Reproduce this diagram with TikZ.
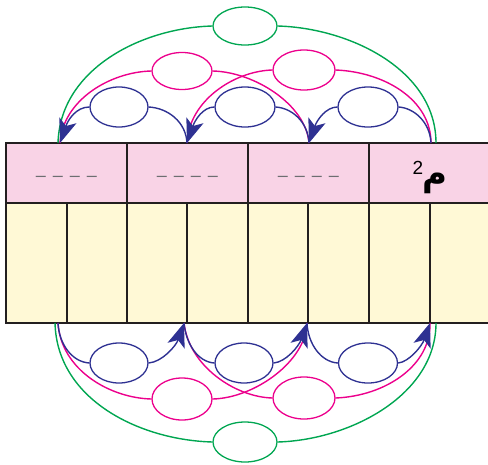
\documentclass[tikz,border=0pt]{standalone}
\usepackage{fontspec}
\newfontfamily\arabicfont[Script=Arabic]{DejaVu Sans}
\newfontfamily\digitfont{Liberation Sans}
\TeXXeTstate=1
\usetikzlibrary{arrows.meta,shapes.geometric}
\definecolor{cblue}{HTML}{2E3192}
\definecolor{cpink}{HTML}{EC008C}
\definecolor{cgreen}{HTML}{00A651}
\definecolor{cellpink}{HTML}{F9D3E6}
\definecolor{cellyellow}{HTML}{FFF9D6}
\definecolor{border}{HTML}{231F20}
\definecolor{dashgray}{HTML}{6D6E71}
\tikzset{
  loopnode/.style={ellipse,draw,line width=1.3pt,inner sep=0pt,minimum width=#1},
  bluel/.style={draw=cblue,line width=1.4pt},
  pinkl/.style={draw=cpink,line width=1.4pt},
  greenl/.style={draw=cgreen,line width=1.4pt},
  arr/.style={-{Stealth[length=24pt,width=18pt,inset=6pt]},cblue},
  dashtxt/.style={text=dashgray,font=\digitfont\fontsize{18}{18}\selectfont,inner sep=0pt},
}
\newcommand\dashrow{–\hspace{7pt}–\hspace{7pt}–\hspace{7pt}–}
\begin{document}
\begin{tikzpicture}[x=1pt,y=-1pt]
\useasboundingbox (0,0) rectangle (488,464);
% table
\fill[cellpink] (6,143) rectangle (488,203);
\fill[cellyellow] (6,203) rectangle (488,323);
\draw[border,line width=1.5pt] (6,203) -- (488,203);
\foreach \x in {67,187,308,430} \draw[border,line width=1.5pt] (\x,203) -- (\x,323);
\foreach \x in {127,248,369} \draw[border,line width=2pt] (\x,143) -- (\x,323);
\draw[border,line width=2.5pt] (488,143) -- (6,143) -- (6,323) -- (488,323);
% texts
\node[dashtxt] (d1) at (66.5,179) {\dashrow};
\node[dashtxt] (d2) at (187.5,179) {\dashrow};
\node[dashtxt] (d3) at (308.5,179) {\dashrow};
\node[inner sep=0pt] (sq) at (418,168) {\digitfont\fontsize{19}{19}\selectfont 2};
\node[inner sep=0pt] (unit) at (435,183) {\arabicfont\bfseries\fontsize{34}{34}\selectfont\beginR م\endR};
% endpoints
\coordinate (P0) at (60,143); \coordinate (P1) at (187,143);
\coordinate (P2) at (309,143); \coordinate (P3) at (431,143);
\coordinate (PG0) at (58,143); \coordinate (PG3) at (436,143);
\coordinate (Q0) at (58,323); \coordinate (Q1) at (184,323);
\coordinate (Q2) at (307,323); \coordinate (Q3) at (430,323);
\coordinate (QG0) at (55,323); \coordinate (QG3) at (436,323);
% top ellipses
\node[loopnode=64pt,minimum height=38pt,cgreen] (G1) at (245,26) {};
\node[loopnode=60pt,minimum height=37pt,cpink] (K1) at (182,71) {};
\node[loopnode=62pt,minimum height=40pt,cpink] (K2) at (304,70) {};
\node[loopnode=58pt,minimum height=40pt,cblue] (B1) at (119,107) {};
\node[loopnode=60pt,minimum height=40pt,cblue] (B2) at (245,107) {};
\node[loopnode=60pt,minimum height=40pt,cblue] (B3) at (368,107) {};
% bottom ellipses
\node[loopnode=64pt,minimum height=40pt,cgreen] (G2) at (245,442) {};
\node[loopnode=60pt,minimum height=42pt,cpink] (K3) at (182,399) {};
\node[loopnode=62pt,minimum height=42pt,cpink] (K4) at (304,398) {};
\node[loopnode=58pt,minimum height=40pt,cblue] (B4) at (119,363) {};
\node[loopnode=58pt,minimum height=40pt,cblue] (B5) at (244,363) {};
\node[loopnode=59pt,minimum height=40pt,cblue] (B6) at (368,363) {};
% top green
\draw[greenl] (G1.west) .. controls (140,28) and (60,70) .. (PG0);
\draw[greenl] (PG3) .. controls (436,70) and (350,28) .. (G1.east);
% top pink
\draw[pinkl] (P2) .. controls (306,105) and (255,72) .. (K1.east);
\draw[pinkl] (K1.west) .. controls (110,72) and (63,100) .. (P0);
\draw[pinkl] (P3) .. controls (431,100) and (385,72) .. (K2.east);
\draw[pinkl] (K2.west) .. controls (235,71) and (189,100) .. (P1);
% top blue
\draw[bluel] (P1) .. controls (186,122) and (168,108) .. (B1.east);
\draw[bluel,arr] (B1.west) .. controls (76,107) and (68,120) .. (P0);
\draw[bluel] (P2) .. controls (308,122) and (292,108) .. (B2.east);
\draw[bluel,arr] (B2.west) .. controls (203,107) and (195,120) .. (P1);
\draw[bluel] (P3) .. controls (430,122) and (414,108) .. (B3.east);
\draw[bluel,arr] (B3.west) .. controls (326,107) and (317,120) .. (P2);
% bottom green
\draw[greenl] (QG0) .. controls (57,400) and (140,440) .. (G2.west);
\draw[greenl] (G2.east) .. controls (350,440) and (436,395) .. (QG3);
% bottom pink
\draw[pinkl] (Q0) .. controls (61,370) and (110,398) .. (K3.west);
\draw[pinkl] (K3.east) .. controls (255,398) and (306,361) .. (Q2);
\draw[pinkl] (Q1) .. controls (189,366) and (235,397) .. (K4.west);
\draw[pinkl] (K4.east) .. controls (385,396) and (431,366) .. (Q3);
% bottom blue
\draw[bluel] (Q0) .. controls (59,344) and (72,362) .. (B4.west);
\draw[bluel,arr] (B4.east) .. controls (162,362) and (176,346) .. (Q1);
\draw[bluel] (Q1) .. controls (186,344) and (198,362) .. (B5.west);
\draw[bluel,arr] (B5.east) .. controls (286,362) and (299,346) .. (Q2);
\draw[bluel] (Q2) .. controls (308,344) and (321,362) .. (B6.west);
\draw[bluel,arr] (B6.east) .. controls (409,362) and (422,346) .. (Q3);
\end{tikzpicture}
\end{document}
